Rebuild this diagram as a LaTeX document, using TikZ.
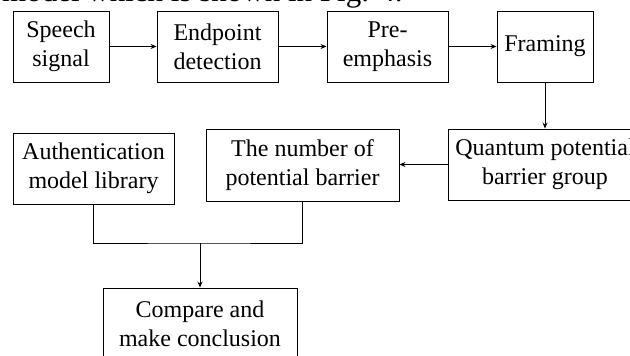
\documentclass[tikz,border=0pt]{standalone}
\usepackage{fontspec}
\setmainfont{Liberation Serif}
\usetikzlibrary{arrows.meta}
\begin{document}
\begin{tikzpicture}[x=1pt,y=-1pt,
  blk/.style={draw, line width=0.9pt, align=center, inner sep=0pt,
    font=\fontsize{24}{29}\selectfont},
  conn/.style={line width=0.9pt},
  arr/.style={conn, -{Stealth[length=6pt,width=5pt]}}]
\useasboundingbox (0,0) rectangle (630,356);
\node[anchor=base west, font=\fontsize{31}{36}\selectfont, inner sep=0pt] (cap) at (2,1.2) {model which is shown in Fig. 4.};
\node[blk, minimum width=96pt, minimum height=71pt] (s1) at (61,46.5) {Speech\\signal};
\node[blk, minimum width=121pt, minimum height=71pt] (s2) at (217.5,46.5) {Endpoint\\detection};
\node[blk, minimum width=121pt, minimum height=71pt] (s3) at (387.5,46.5) {Pre-\\emphasis};
\node[blk, minimum width=96pt, minimum height=71pt] (s4) at (545,46.5) {Framing};
\node[blk, minimum width=194pt, minimum height=71pt] (q) at (545,164.5) {Quantum potential\\barrier group};
\node[blk, minimum width=193pt, minimum height=72pt] (nb) at (302.5,165) {The number of\\potential barrier};
\node[blk, minimum width=161pt, minimum height=71pt] (au) at (93.5,168.5) {Authentication\\model library};
\node[blk, minimum width=194pt, minimum height=71pt] (cmp) at (200,323.5) {Compare and\\make conclusion};
\coordinate (m) at (200,243);
\draw[arr] (s1) -- (s2);
\draw[arr] (s2) -- (s3);
\draw[arr] (s3) -- (s4);
\draw[arr] (s4) -- (q);
\draw[arr] (q.west) -- (q.west -| nb.east);
\draw[conn] (au.south) |- (m) -| (nb.south);
\draw[arr] (m) -- (cmp.north);
\end{tikzpicture}
\end{document}
